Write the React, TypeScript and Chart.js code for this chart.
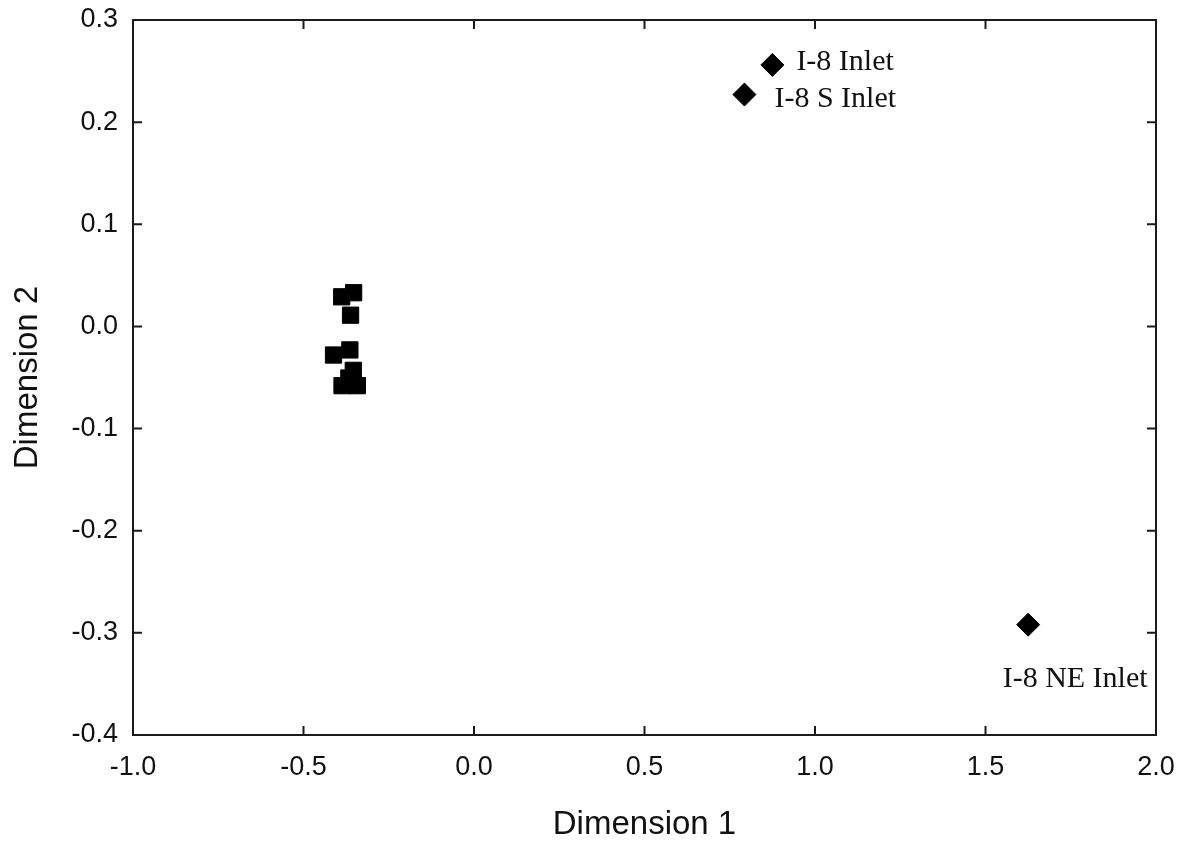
import React, { useEffect, useRef } from "react";
import { Chart, registerables } from "chart.js";

Chart.register(...registerables);

// Cluster of samples (squares)
const clusterX = [-0.388, -0.353, -0.362, -0.412, -0.364, -0.387, -0.354, -0.342, -0.367];
const clusterY = [0.029, 0.033, 0.011, -0.028, -0.023, -0.058, -0.043, -0.058, -0.0505];

// Named inlets (diamonds)
const inletNames = ["I-8 Inlet", "I-8 S Inlet", "I-8 NE Inlet"];
const inletX = [0.875, 0.793, 1.625];
const inletY = [0.256, 0.227, -0.292];

const xTicks = [-1.0, -0.5, 0.0, 0.5, 1.0, 1.5, 2.0];
const yTicks = [-0.4, -0.3, -0.2, -0.1, 0.0, 0.1, 0.2, 0.3];

// label placement (pixel offsets from marker, alphabetic baseline)
const labelOffsets: { dx: number; dy: number; align: CanvasTextAlign }[] = [
  { dx: 24, dy: 5.5, align: "left" },
  { dx: 30, dy: 12.5, align: "left" },
  { dx: 47, dy: 62, align: "center" },
];

const W = 1191;
const H = 846;
const AREA_LEFT = 133;
const AREA_TOP = 20;
const AREA_RIGHT = 1156;
const AREA_BOTTOM = 735;

const fmt = (v: number) => (Math.abs(v) < 1e-9 ? "0.0" : v.toFixed(1));

const framePlugin = {
  id: "frameTicks",
  afterDraw(chart: any) {
    const { ctx, chartArea } = chart;
    const xs = chart.scales.x;
    const ys = chart.scales.y;
    const len = 9;
    ctx.save();
    ctx.strokeStyle = "#1a1a1a";
    ctx.lineWidth = 2;
    ctx.strokeRect(chartArea.left, chartArea.top, chartArea.right - chartArea.left, chartArea.bottom - chartArea.top);
    ctx.beginPath();
    xTicks.forEach((v) => {
      const px = xs.getPixelForValue(v);
      if (px <= chartArea.left + 1 || px >= chartArea.right - 1) return;
      ctx.moveTo(px, chartArea.bottom);
      ctx.lineTo(px, chartArea.bottom - len);
      ctx.moveTo(px, chartArea.top);
      ctx.lineTo(px, chartArea.top + len);
    });
    yTicks.forEach((v) => {
      const py = ys.getPixelForValue(v);
      if (py <= chartArea.top + 1 || py >= chartArea.bottom - 1) return;
      ctx.moveTo(chartArea.left, py);
      ctx.lineTo(chartArea.left + len, py);
      ctx.moveTo(chartArea.right, py);
      ctx.lineTo(chartArea.right - len, py);
    });
    ctx.stroke();
    ctx.restore();
  },
  afterDatasetsDraw(chart: any) {
    const { ctx } = chart;
    const meta = chart.getDatasetMeta(1);
    ctx.save();
    ctx.fillStyle = "#111";
    ctx.font = "30px 'Liberation Serif', 'Times New Roman', serif";
    ctx.textBaseline = "alphabetic";
    meta.data.forEach((el: any, i: number) => {
      const o = labelOffsets[i];
      ctx.textAlign = o.align;
      ctx.fillText(inletNames[i], el.x + o.dx, el.y + o.dy);
    });
    ctx.restore();
  },
};

export default function App() {
  const ref = useRef<HTMLCanvasElement>(null);
  useEffect(() => {
    if (!ref.current) return;
    const sansFont = "'Liberation Sans', Arial, sans-serif";
    const chart = new Chart(ref.current, {
      type: "scatter",
      data: {
        datasets: [
          {
            label: "Samples",
            data: clusterX.map((x, i) => ({ x, y: clusterY[i] })),
            pointStyle: "rect",
            pointRadius: 11.5,
            pointHoverRadius: 11.5,
            backgroundColor: "#000",
            borderColor: "#000",
            borderWidth: 1,
          },
          {
            label: "Inlets",
            data: inletX.map((x, i) => ({ x, y: inletY[i] })),
            pointStyle: "rectRot",
            pointRadius: 11.5,
            pointHoverRadius: 11.5,
            backgroundColor: "#000",
            borderColor: "#000",
            borderWidth: 1,
          },
        ],
      },
      options: {
        responsive: false,
        animation: false,
        events: [],
        layout: { padding: { top: AREA_TOP, right: W - AREA_RIGHT, bottom: 0, left: 0 } },
        plugins: { legend: { display: false }, tooltip: { enabled: false } },
        scales: {
          x: {
            type: "linear",
            min: -1,
            max: 2,
            afterBuildTicks: (s: any) => {
              s.ticks = xTicks.map((v) => ({ value: v }));
            },
            afterFit: (s: any) => {
              s.height = H - AREA_BOTTOM;
              s.paddingLeft = 0;
              s.paddingRight = 0;
            },
            grid: { display: false, drawTicks: false },
            border: { display: false },
            ticks: {
              padding: 16,
              color: "#111",
              font: { family: sansFont, size: 27 },
              callback: (v: any) => fmt(Number(v)),
              maxRotation: 0,
            },
            title: {
              display: true,
              text: "Dimension 1",
              color: "#111",
              font: { family: sansFont, size: 33 },
              padding: { top: 0, bottom: 1 },
            },
          },
          y: {
            type: "linear",
            min: -0.4,
            max: 0.3,
            afterBuildTicks: (s: any) => {
              s.ticks = yTicks.map((v) => ({ value: v }));
            },
            afterFit: (s: any) => {
              s.width = AREA_LEFT;
              s.paddingTop = 0;
              s.paddingBottom = 0;
            },
            grid: { display: false, drawTicks: false },
            border: { display: false },
            ticks: {
              padding: 15,
              color: "#111",
              font: { family: sansFont, size: 27 },
              callback: (v: any) => fmt(Number(v)),
            },
            title: {
              display: true,
              text: "Dimension 2",
              color: "#111",
              font: { family: sansFont, size: 33 },
              padding: { top: 8, bottom: 0 },
            },
          },
        },
      },
      plugins: [framePlugin],
    } as any);
    return () => chart.destroy();
  }, []);
  return (
    <div style={{ position: "fixed", left: 0, top: 0, width: W, height: H, background: "#fff" }}>
      <canvas ref={ref} width={W} height={H} style={{ display: "block" }} />
    </div>
  );
}
